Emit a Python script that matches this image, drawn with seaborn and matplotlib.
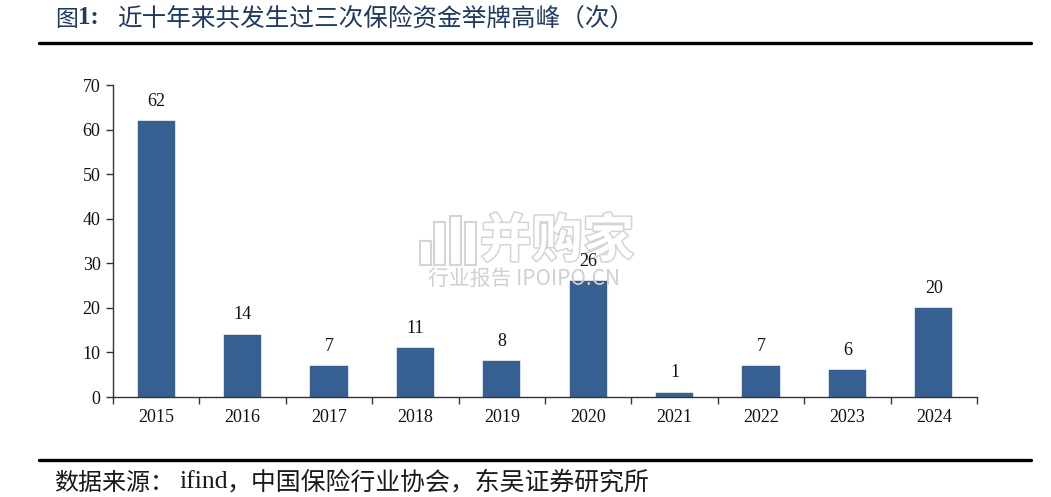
import numpy as np
import pandas as pd
import matplotlib
matplotlib.use("Agg")
import matplotlib.pyplot as plt
import matplotlib.patheffects as pe
from matplotlib.lines import Line2D
from matplotlib.patches import Rectangle
import seaborn as sns

years = ["2015", "2016", "2017", "2018", "2019", "2020", "2021", "2022", "2023", "2024"]
counts = [62, 14, 7, 11, 8, 26, 1, 7, 6, 20]
y_ticks = [0, 10, 20, 30, 40, 50, 60, 70]

title_text = "近十年来共发生过三次保险资金举牌高峰（次）"
source_text = "数据来源："
source_tail = "，中国保险行业协会，东吴证券研究所"

BAR = "#376092"
NAVY = "#1f3a5f"
W, H = 1051, 497
SERIF = ["Liberation Serif", "Noto Sans CJK SC"]
CJK = ["Noto Sans CJK SC", "DejaVu Sans"]

sns.set_theme(style="white")
plt.rcParams["font.family"] = SERIF

fig = plt.figure(figsize=(W / 100, H / 100), dpi=100, facecolor="white")
ax = fig.add_axes([113 / W, 1 - 397 / H, (977 - 113) / W, (397 - 85) / H])
ax.patch.set_visible(False)

df = pd.DataFrame({"year": years, "count": counts})
sns.barplot(data=df, x="year", y="count", color=BAR, saturation=1, width=0.43,
            edgecolor=BAR, linewidth=0.3, ax=ax)

ax.set_xlim(-0.5, 9.5)
ax.set_ylim(0, 70)
ax.set_xlabel("")
ax.set_ylabel("")
ax.set_yticks(y_ticks)
ax.set_xticks(np.arange(-0.5, 10, 1))
ax.set_xticklabels([])
ax.set_xticks(range(len(years)), labels=years, minor=True)
ax.tick_params(axis="x", which="major", length=5, width=1, color="#333333", direction="out", bottom=True)
ax.tick_params(axis="x", which="minor", length=0, labelsize=13, pad=9, labelcolor="#111111", bottom=True)
ax.tick_params(axis="y", length=5, width=1, color="#333333", direction="out", left=True, labelsize=13, pad=4, labelcolor="#111111")
for s in ["top", "right"]:
    ax.spines[s].set_visible(False)
for s in ["left", "bottom"]:
    ax.spines[s].set_color("#333333")
    ax.spines[s].set_linewidth(1)

for i, v in enumerate(counts):
    ax.annotate(str(v), (i, v), xytext=(0, 8), textcoords="offset points", ha="center",
                va="bottom", fontsize=13, color="#111111", zorder=6)

# title + rules
fig.text(55 / W, 1 - 19 / H, "图", family=CJK, fontsize=16.5, weight="medium", color=NAVY, va="center")
fig.text(78 / W, 1 - 18 / H, "1:", family=SERIF, fontsize=18, weight="bold", color=NAVY, va="center")
fig.text(117 / W, 1 - 19 / H, title_text, family=CJK, fontsize=17.7, weight="medium", color=NAVY, va="center")
for yy in (42.5, 459.5):
    fig.add_artist(Line2D([39 / W, 1031 / W], [1 - yy / H] * 2, color="black", lw=2.4))

# source line
fig.text(54 / W, 1 - 483 / H, source_text, family=CJK, fontsize=17.3, color="#1a1a1a", va="center")
fig.text(179 / W, 1 - 482 / H, "ifind", family=SERIF, fontsize=18.5, color="#1a1a1a", va="center")
fig.text(227 / W, 1 - 483 / H, source_tail, family=CJK, fontsize=17.9, color="#1a1a1a", va="center")

# watermark: logo and name sit under the chart, the small line over it
shadow = [pe.withStroke(linewidth=2.2, foreground="#d4d4d4")]
fig.text(557 / W, 1 - 241 / H, "并购家", family=CJK, fontsize=37, weight="bold", color="white",
         ha="center", va="center", zorder=-1, path_effects=shadow)
for x0, y0, hh in [(420, 241, 24), (434, 222, 43), (450, 216, 49), (465, 222, 43)]:
    fig.add_artist(Rectangle((x0 / W, 1 - (y0 + hh) / H), 11 / W, hh / H, transform=fig.transFigure,
                             facecolor="white", edgecolor="#d4d4d4", lw=1.5, zorder=-1))
fig.text(524 / W, 1 - 279 / H, "行业报告 IPOIPO.CN", family=CJK, fontsize=15, color="#d0d0d0",
         ha="center", va="center", zorder=10)

fig.savefig("out.png", dpi=100, facecolor="white")
